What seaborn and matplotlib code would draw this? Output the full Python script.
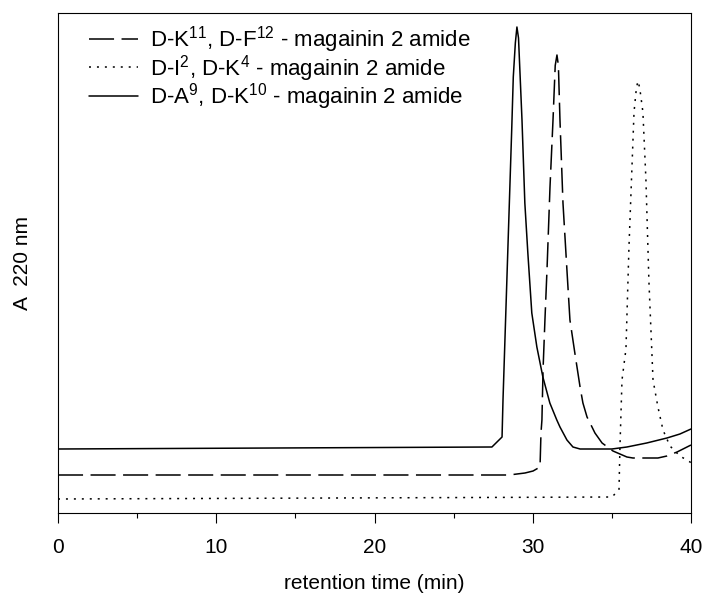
import seaborn as sns
import pandas as pd
import matplotlib.pyplot as plt

# chromatogram traces (absorbance in arbitrary units)
labels = [r'D-K$^{\mathregular{11}}$, D-F$^{\mathregular{12}}$ - magainin 2 amide',
          r'D-I$^{\mathregular{2}}$, D-K$^{\mathregular{4}}$ - magainin 2 amide',
          r'D-A$^{\mathregular{9}}$, D-K$^{\mathregular{10}}$ - magainin 2 amide']

t_dash = [0, 28.5, 29.51, 30.02, 30.46, 30.52, 30.58, 30.65, 30.77, 30.9, 31.09, 31.28,
          31.42, 31.53, 31.62, 31.72, 31.91, 32.16, 32.35, 32.66, 32.99, 33.17, 33.43,
          33.62, 33.93, 34.38, 35.07, 35.95, 36.33, 37.91, 38.48, 39.12, 40]
a_dash = [0.076, 0.076, 0.080, 0.084, 0.092, 0.160, 0.186, 0.286, 0.386, 0.486, 0.652, 0.786,
          0.895, 0.916, 0.895, 0.786, 0.620, 0.486, 0.386, 0.320, 0.252, 0.220, 0.192,
          0.180, 0.160, 0.140, 0.124, 0.112, 0.110, 0.110, 0.114, 0.122, 0.136]

t_dot = [0, 35.0, 35.45, 35.51, 35.64, 35.89, 36.08, 36.4, 36.55, 36.65, 36.76, 36.96,
         37.15, 37.34, 37.6, 37.91, 38.23, 38.67, 39.3, 39.94, 40]
a_dot = [0.028, 0.032, 0.046, 0.132, 0.266, 0.328, 0.532, 0.802, 0.850, 0.864, 0.850, 0.802,
         0.668, 0.464, 0.266, 0.212, 0.166, 0.134, 0.114, 0.102, 0.100]

t_solid = [0, 27.42, 28.06, 28.12, 28.67, 28.77, 28.9, 29.0, 29.1, 29.32, 29.5, 29.69,
           29.94, 30.26, 30.64, 31.08, 31.52, 31.72, 32.16, 32.54, 32.99, 35.0, 35.95,
           37.2, 38.48, 39.3, 40]
a_solid = [0.128, 0.132, 0.152, 0.226, 0.766, 0.872, 0.940, 0.972, 0.950, 0.786, 0.620, 0.520,
           0.400, 0.332, 0.272, 0.220, 0.186, 0.172, 0.146, 0.132, 0.128, 0.128, 0.132,
           0.140, 0.150, 0.158, 0.168]

xticks = [0, 10, 20, 30, 40]

df = pd.concat([
    pd.DataFrame({'time': t_dash, 'A': a_dash, 'peptide': labels[0]}),
    pd.DataFrame({'time': t_dot, 'A': a_dot, 'peptide': labels[1]}),
    pd.DataFrame({'time': t_solid, 'A': a_solid, 'peptide': labels[2]}),
])

sns.set_style('ticks')
plt.rcParams['font.family'] = ['Liberation Sans', 'DejaVu Sans']
plt.rcParams['mathtext.fontset'] = 'custom'
plt.rcParams['mathtext.rm'] = 'Liberation Sans'
plt.rcParams['text.color'] = 'black'
plt.rcParams['axes.labelcolor'] = 'black'
plt.rcParams['xtick.color'] = 'black'

fig = plt.figure(figsize=(7.03, 6.01), dpi=100)
ax = fig.add_axes([58/703, 88/601, 633/703, 500/601])

sns.lineplot(data=df, x='time', y='A', style='peptide', style_order=labels,
             dashes={labels[0]: (16.4, 4.9), labels[1]: (1.3, 3.9), labels[2]: ''},
             color='black', linewidth=1.1, estimator=None, sort=False, ax=ax)

ax.set_xlim(0, 40)
ax.set_ylim(0, 1)
ax.set_xticks(xticks)
ax.set_xticks(range(0, 41, 5), minor=True)
ax.set_yticks([])
ax.tick_params(axis='x', which='major', direction='out', length=7, width=0.8,
               pad=11, labelsize=15, colors='black')
ax.tick_params(axis='x', which='minor', direction='out', length=3.5, width=0.8)
for s in ax.spines.values():
    s.set_color('black')
    s.set_linewidth(0.8)

ax.set_xlabel('retention time (min)', fontsize=15, labelpad=12)
ax.set_ylabel('A  220 nm', fontsize=15, labelpad=19)

handles, labs = ax.get_legend_handles_labels()
ax.legend(handles, labs, loc='upper left', bbox_to_anchor=(31/633, 0.978),
          frameon=False, fontsize=16, handlelength=2.2, handletextpad=0.55,
          labelspacing=-0.1, borderpad=0, borderaxespad=0)

fig.savefig('out.png', dpi=100)
